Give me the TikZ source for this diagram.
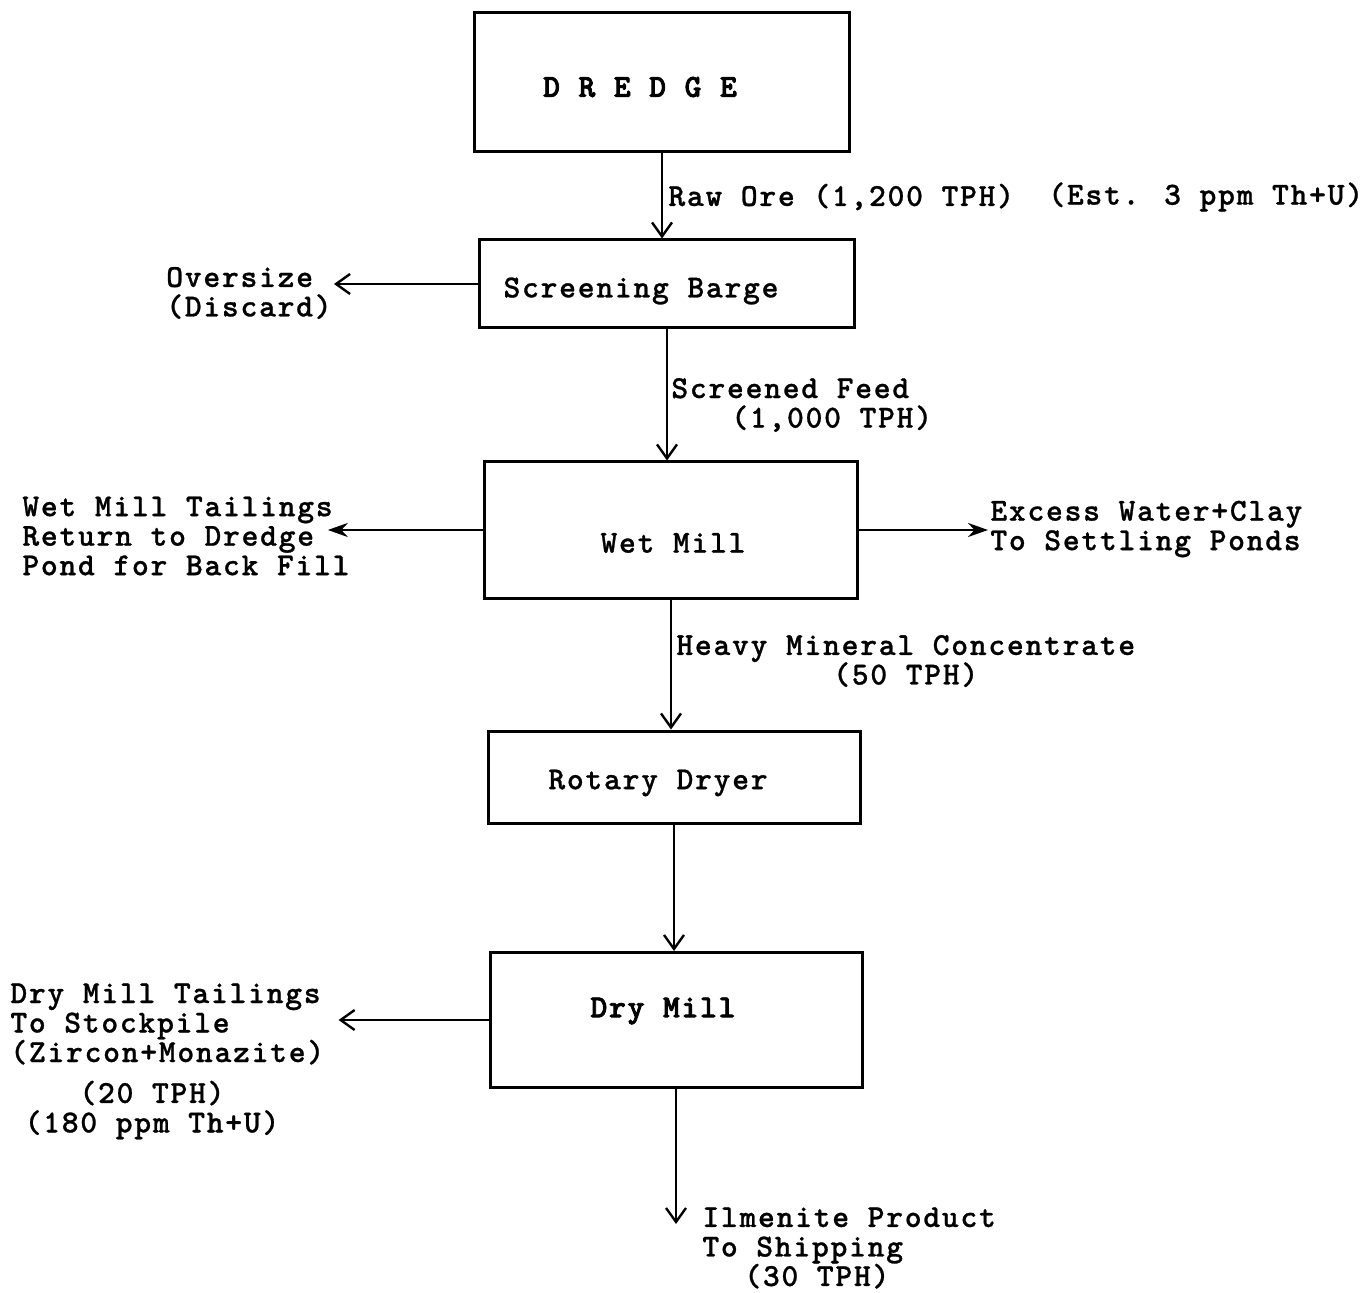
\documentclass[tikz,border=0pt]{standalone}
\usepackage{fontspec}
\newfontfamily\tw{lmmonolt10-bold}[Extension=.otf,LetterSpace=5.5,FakeBold=0.8]
\newfontfamily\twb{lmmonolt10-bold}[Extension=.otf,LetterSpace=5.5,FakeBold=2.5]
\usetikzlibrary{positioning,arrows.meta}

\begin{document}
\begin{tikzpicture}[
    x=0.5pt, y=-0.5pt,
    proc/.style={draw, line width=1.5pt, inner sep=0pt},
    note/.style={inner sep=1pt, align=left, font=\tw\fontsize{16}{14.75}\selectfont},
    title/.style={inner sep=1pt, font=\twb\fontsize{16}{15}\selectfont},
    flow/.style={-{Straight Barb[length=7pt,width=10pt]}, line width=1.2pt},
    flowf/.style={-{Stealth[length=10pt,width=7pt]}, line width=1.2pt},
]
\useasboundingbox (0,0) rectangle (1363,1293);
% process boxes
\node[proc, minimum width=187.5pt, minimum height=69.5pt,
  label={[title, xshift=-11pt, yshift=-2.5pt]center:D R E D G E}] (dredge) at (662,82) {};
\node[proc, minimum width=187.5pt, minimum height=44pt,
  label={[note, xshift=-13pt, yshift=-3.5pt]center:Screening Barge}] (screen) at (667,284) {};
\node[proc, minimum width=186.5pt, minimum height=68pt,
  label={[note, xshift=1pt, yshift=-6.5pt]center:Wet Mill}] (wet) at (671,530) {};
\node[proc, minimum width=186pt, minimum height=46pt,
  label={[note, xshift=-8pt, yshift=-3pt]center:Rotary Dryer}] (dryer) at (674,777) {};
\node[proc, minimum width=186pt, minimum height=67.5pt,
  label={[title, xshift=-6.5pt, yshift=4.5pt]center:Dry Mill}] (dry) at (676,1020) {};
% stream labels
\node[note, anchor=west] (rawore) at (666,197) {Raw Ore (1,200 TPH)};
\node[note, anchor=west] (est) at (1046,197) {(Est. 3 ppm Th+U)};
\node[note, anchor=east] (over) at (334,293) {Oversize\\(Discard)};
\node[note, anchor=west] (feed) at (669,405) {Screened Feed\\\hspace*{30pt}(1,000 TPH)};
\node[note, anchor=west] (tail) at (20,536) {Wet Mill Tailings\\Return to Dredge\\Pond for Back Fill};
\node[note, anchor=west] (excess) at (988,529) {Excess Water+Clay\\To Settling Ponds};
\node[note, anchor=west, align=center] (heavy) at (674,661) {Heavy Mineral Concentrate\\(50 TPH)};
\node[note, anchor=west] (stock) at (8,1024) {Dry Mill Tailings\\To Stockpile\\(Zircon+Monazite)};
\node[note, align=center] (assay) at (152,1110) {(20 TPH)\\(180 ppm Th+U)};
\node[note, anchor=north west] (ilm) at (700,1205) {Ilmenite Product\\To Shipping\\\hspace*{21pt}(30 TPH)};
\coordinate (ship) at (679,1224);
% flows
\draw[flow] (dredge.south) -- (dredge.south |- screen.north);
\draw[flow] (screen.west) -- (screen.west -| over.east);
\draw[flow] (screen.south) -- (screen.south |- wet.north);
\draw[flowf] (wet.west) -- ([xshift=-12pt]wet.west -| tail.east);
\draw[flowf] (wet.east) -- (wet.east -| excess.west);
\draw[flow] (wet.south) -- (wet.south |- dryer.north);
\draw[flow] (dryer.south) -- (dryer.south |- dry.north);
\draw[flow] (dry.west) -- ([xshift=6pt]dry.west -| stock.east);
\draw[flow] (dry.south) -- (dry.south |- ship);
\end{tikzpicture}
\end{document}
